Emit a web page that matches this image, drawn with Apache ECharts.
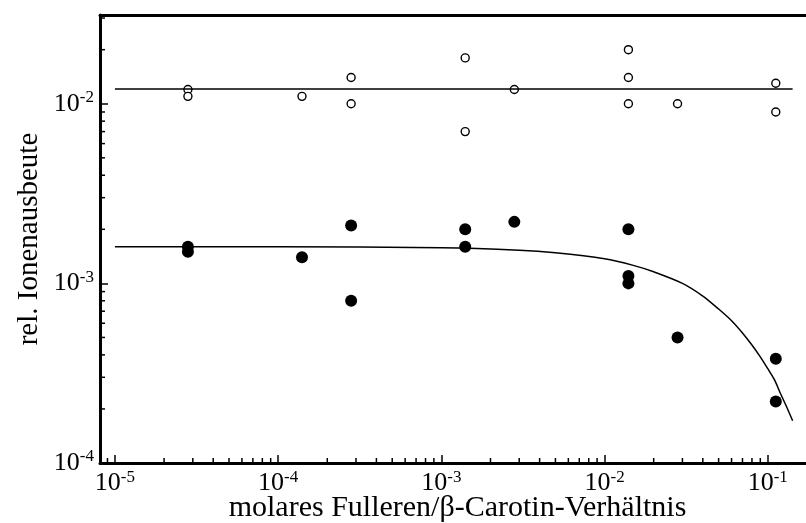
<!DOCTYPE html>
<html>
<head>
<meta charset="utf-8">
<script src="https://cdn.jsdelivr.net/npm/echarts@6/dist/echarts.min.js"></script>
<style>
  html, body { margin: 0; padding: 0; background: #fff; }
  #chart { width: 806px; height: 523px; }
</style>
</head>
<body>
<div id="chart"></div>
<script>
// Axis ranges (log10 scale)
const xMin = 8.1e-6;
const xMax = 0.1715;
const yMin = 1e-4;
const yMax = 0.0312;

// Open circles: upper ion yield
const openX = [2.8e-5, 2.8e-5, 1.4e-4, 2.8e-4, 2.8e-4, 1.4e-3, 1.4e-3, 2.8e-3, 1.4e-2, 1.4e-2, 1.4e-2, 2.8e-2, 0.112, 0.112];
const openY = [0.012, 0.011, 0.011, 0.014, 0.010, 0.018, 0.007, 0.012, 0.020, 0.014, 0.010, 0.010, 0.013, 0.009];

// Filled circles: lower ion yield
const fillX = [2.8e-5, 2.8e-5, 1.4e-4, 2.8e-4, 2.8e-4, 1.4e-3, 1.4e-3, 2.8e-3, 1.4e-2, 1.4e-2, 1.4e-2, 2.8e-2, 0.112, 0.112];
const fillY = [1.6e-3, 1.5e-3, 1.4e-3, 2.1e-3, 8.0e-4, 2.0e-3, 1.6e-3, 2.2e-3, 2.0e-3, 1.1e-3, 1.0e-3, 5.0e-4, 3.8e-4, 2.2e-4];

// Flat line through the open circles
const flatX = [1e-5, 0.142];
const flatY = [0.0121, 0.0121];

// Falling curve through the filled circles
const curveX = [1e-5, 1e-4, 1e-3, 3e-3, 5e-3, 1e-2, 1.5e-2, 2e-2, 3e-2, 4e-2, 5e-2, 6e-2, 7e-2, 8e-2, 9e-2, 0.1, 0.11, 0.12, 0.13, 0.142];
const curveY = [1.6e-3, 1.6e-3, 1.58e-3, 1.53e-3, 1.48e-3, 1.37e-3, 1.26e-3, 1.16e-3, 1.0e-3, 8.5e-4, 7.2e-4, 6.2e-4, 5.3e-4, 4.54e-4, 3.9e-4, 3.35e-4, 2.9e-4, 2.42e-4, 2.07e-4, 1.72e-4];

const pairs = (xs, ys) => xs.map((x, i) => [x, ys[i]]);

// Minor tick positions (2..9 within each decade) inside an axis range
function minorTicks(lo, hi) {
  const out = [];
  for (let e = Math.floor(Math.log10(lo)); e <= Math.ceil(Math.log10(hi)); e++) {
    for (let m = 2; m <= 9; m++) {
      const v = m * Math.pow(10, e);
      if (v > lo && v < hi) out.push(v);
    }
  }
  return out;
}

const serif = '"Liberation Serif", "DejaVu Serif", serif';

function powLabel(v) {
  const e = Math.round(Math.log10(v));
  return '{b|10}{s|' + e + '}';
}
const labelRich = {
  b: { fontFamily: serif, fontSize: 26, color: '#000' },
  s: { fontFamily: serif, fontSize: 17, color: '#000', padding: [0, 0, 12, 0] }
};

const chart = echarts.init(document.getElementById('chart'), null, { renderer: 'canvas' });

const option = {
  animation: false,
  backgroundColor: '#fff',
  grid: { left: 100, top: 15, right: 0, height: 448, containLabel: false, outerBoundsMode: 'none' },
  xAxis: [{
    type: 'log', logBase: 10, min: xMin, max: xMax,
    name: 'molares Fulleren/β-Carotin-Verhältnis',
    nameLocation: 'middle', nameGap: 30, nameMoveOverlap: false,
    nameTextStyle: { fontFamily: serif, fontSize: 30, color: '#000', padding: [0, 0, 0, 9] },
    axisLine: { show: true, onZero: false, lineStyle: { color: '#000', width: 3 } },
    axisTick: { show: true, inside: true, length: 8, lineStyle: { color: '#000', width: 1.5 } },
    axisLabel: { formatter: powLabel, rich: labelRich, margin: 6, showMinLabel: false, showMaxLabel: false },
    splitLine: { show: false }, minorTick: { show: false }
  }, {
    type: 'log', logBase: 10, min: xMin, max: xMax, position: 'top',
    axisLine: { show: true, onZero: false, lineStyle: { color: '#000', width: 3 } },
    axisTick: { show: false }, axisLabel: { show: false }, splitLine: { show: false }
  }],
  yAxis: [{
    type: 'log', logBase: 10, min: yMin, max: yMax,
    name: 'rel. Ionenausbeute',
    nameLocation: 'middle', nameGap: 56, nameRotate: 90, nameMoveOverlap: false,
    nameTextStyle: { fontFamily: serif, fontSize: 29, color: '#000' },
    axisLine: { show: true, onZero: false, lineStyle: { color: '#000', width: 3 } },
    axisTick: { show: true, inside: true, length: 8, lineStyle: { color: '#000', width: 1.5 } },
    axisLabel: { formatter: powLabel, rich: labelRich, margin: 6, showMaxLabel: false },
    splitLine: { show: false }
  }],
  series: [
    {
      type: 'custom', silent: true, clip: false,
      data: minorTicks(xMin, xMax).map(v => [v, yMin]),
      renderItem: (params, api) => {
        const p = api.coord([api.value(0), api.value(1)]);
        return { type: 'line', shape: { x1: p[0], y1: p[1], x2: p[0], y2: p[1] - 5 },
                 style: { stroke: '#000', lineWidth: 1.5 } };
      }
    },
    {
      type: 'custom', silent: true, clip: false,
      data: minorTicks(yMin, yMax).map(v => [xMin, v]),
      renderItem: (params, api) => {
        const p = api.coord([api.value(0), api.value(1)]);
        return { type: 'line', shape: { x1: p[0], y1: p[1], x2: p[0] + 5, y2: p[1] },
                 style: { stroke: '#000', lineWidth: 1.5 } };
      }
    },
    {
      type: 'line', data: pairs(flatX, flatY), showSymbol: false, silent: true,
      lineStyle: { color: '#000', width: 1.5 }
    },
    {
      type: 'line', data: pairs(curveX, curveY), showSymbol: false, silent: true,
      smooth: 0.3,
      lineStyle: { color: '#000', width: 1.5 }
    },
    {
      type: 'scatter', data: pairs(openX, openY), symbol: 'circle', symbolSize: 8,
      itemStyle: { color: '#fff', borderColor: '#000', borderWidth: 1.4, opacity: 1 }
    },
    {
      type: 'scatter', data: pairs(fillX, fillY), symbol: 'circle', symbolSize: 12,
      itemStyle: { color: '#000', opacity: 1 }
    }
  ]
};
chart.setOption(option);
</script>
</body>
</html>
